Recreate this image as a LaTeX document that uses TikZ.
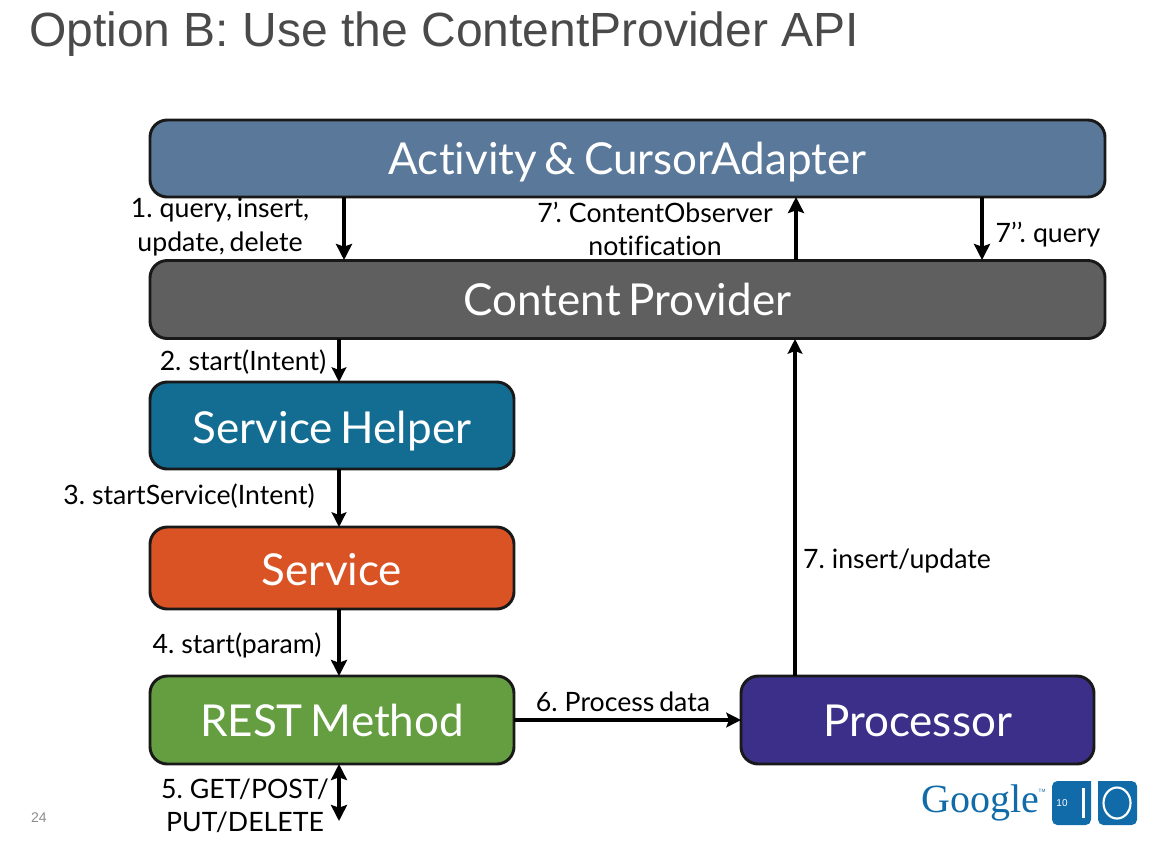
\documentclass[tikz,border=0pt]{standalone}
\usepackage{fontspec}
\setmainfont[Ligatures=NoCommon,WordSpace=0.7]{Lato}
\newfontfamily\arialf{Liberation Sans}
\newfontfamily\serifl{Liberation Serif}
\usetikzlibrary{arrows.meta}
\definecolor{cActivity}{HTML}{5A7899}
\definecolor{cProvider}{HTML}{5F5F5F}
\definecolor{cHelper}{HTML}{136D93}
\definecolor{cService}{HTML}{D95325}
\definecolor{cRest}{HTML}{659E40}
\definecolor{cProc}{HTML}{3C2F89}
\definecolor{cTitle}{HTML}{4A4A4A}
\definecolor{cGoogle}{HTML}{106BA8}
\tikzset{
  x=0.75pt,y=-0.75pt,
  blockbox/.style={draw=black!90,line width=2.2pt,rounded corners=13pt,text=white,font=\fontsize{33}{36}\selectfont,inner sep=0pt,anchor=center,text depth=5pt},
  lbl/.style={text=black,font=\fontsize{20}{25}\selectfont,inner sep=0pt,align=center},
  tipbig/.tip={Stealth[length=12pt,width=12pt,inset=2pt]},
  tipsmall/.tip={Stealth[length=11pt,width=11pt,inset=2pt]},
  arrowthick/.style={draw=black,line width=3pt,-tipbig},
  arrowthin/.style={draw=black,line width=2.3pt,-tipsmall},
}
\newcommand{\blockat}[8]{\node[blockbox,fill=#7,text height=#8,minimum width=#3*0.75pt,minimum height=#4*0.75pt] (#1) at (#5,#6) {#2};}
\begin{document}
\begin{tikzpicture}
\useasboundingbox (0,0) rectangle (1176,840);
\node[anchor=west,inner sep=0pt,text=cTitle,font=\arialf\fontsize{36}{40}\selectfont] (title) at (29,34) {Option B: Use the ContentProvider API};

\blockat{activity}{Activity \& CursorAdapter}{955}{77}{627.5}{158.5}{cActivity}{28.25pt}
\blockat{provider}{Content Provider}{955}{78}{627.5}{299.5}{cProvider}{28.25pt}
\blockat{helper}{Service Helper}{364}{87}{332}{425.5}{cHelper}{31.25pt}
\blockat{service}{Service}{364}{82}{332}{568}{cService}{30.5pt}
\blockat{rest}{REST Method}{364}{88}{332}{720}{cRest}{29pt}
\blockat{proc}{Processor}{353}{88}{917.5}{720}{cProc}{29pt}

\coordinate (a1) at (344,197);
\coordinate (a1e) at (344,260);
\coordinate (a2) at (796,260);
\coordinate (a2e) at (796,197);
\coordinate (a3) at (982,197);
\coordinate (a3e) at (982,260);
\coordinate (b1) at (339,339);
\coordinate (b1e) at (339,382);
\coordinate (b2) at (339,469);
\coordinate (b2e) at (339,527);
\coordinate (b3) at (339,609);
\coordinate (b3e) at (339,676);
\coordinate (c1) at (514,720);
\coordinate (c1e) at (741,720);
\coordinate (d1) at (795,676);
\coordinate (d1e) at (795,339);
\coordinate (e1) at (339,764);
\coordinate (e1e) at (339,821);

\draw[arrowthick] (a1) -- (a1e);
\draw[arrowthick] (a2) -- (a2e);
\draw[arrowthick] (a3) -- (a3e);
\draw[arrowthin] (b1) -- (b1e);
\draw[arrowthin] (b2) -- (b2e);
\draw[arrowthick] (b3) -- (b3e);
\draw[arrowthin] (c1) -- (c1e);
\draw[arrowthin] (d1) -- (d1e);
\draw[draw=black,line width=2.6pt,tipbig-tipbig] (e1) -- (e1e);

\node[lbl] (l1) at (220,227) {1. query, insert,\\update, delete};
\node[lbl] (l2) at (655,229) {7’. ContentObserver\\notification};
\node[lbl] (l3) at (1048,235) {7’’. query};
\node[lbl] (l4) at (243,362) {2. start(Intent)};
\node[lbl] (l5) at (189,496) {3. startService(Intent)};
\node[lbl] (l6) at (237,645) {4. start(param)};
\node[lbl] (l7) at (623,702) {6. Process data};
\node[lbl] (l8) at (897,561) {7. insert/update};
\node[lbl] (l9) at (245,806) {5. GET/POST/\\PUT/DELETE};

\node[anchor=center,inner sep=0pt,text=black!45,font=\arialf\fontsize{10.5}{12}\selectfont] (page) at (39,818) {24};

\node[anchor=center,inner sep=0pt,text=cGoogle,font=\serifl\fontsize{30}{34}\selectfont] (google) at (980,803) {Google};
\node[anchor=center,inner sep=0pt,text=cGoogle,font=\arialf\fontsize{3.5}{4}\selectfont] (tm) at (1042,791) {TM};
\fill[cGoogle,rounded corners=4pt] (1091,781) -- (1052,781) -- (1052,825) -- (1091,825) [sharp corners] -- cycle;
\fill[cGoogle,rounded corners=4pt] (1098,781) -- (1137,781) -- (1137,825) -- (1098,825) [sharp corners] -- cycle;
\fill[white] (1082,788) rectangle (1085,818);
\draw[white,line width=1.6pt] (1117,803) ellipse (13.5 and 15.5);
\node[anchor=center,inner sep=0pt,text=white,font=\arialf\fontsize{7.5}{9}\selectfont] (ten) at (1062,803) {10};
\end{tikzpicture}
\end{document}
